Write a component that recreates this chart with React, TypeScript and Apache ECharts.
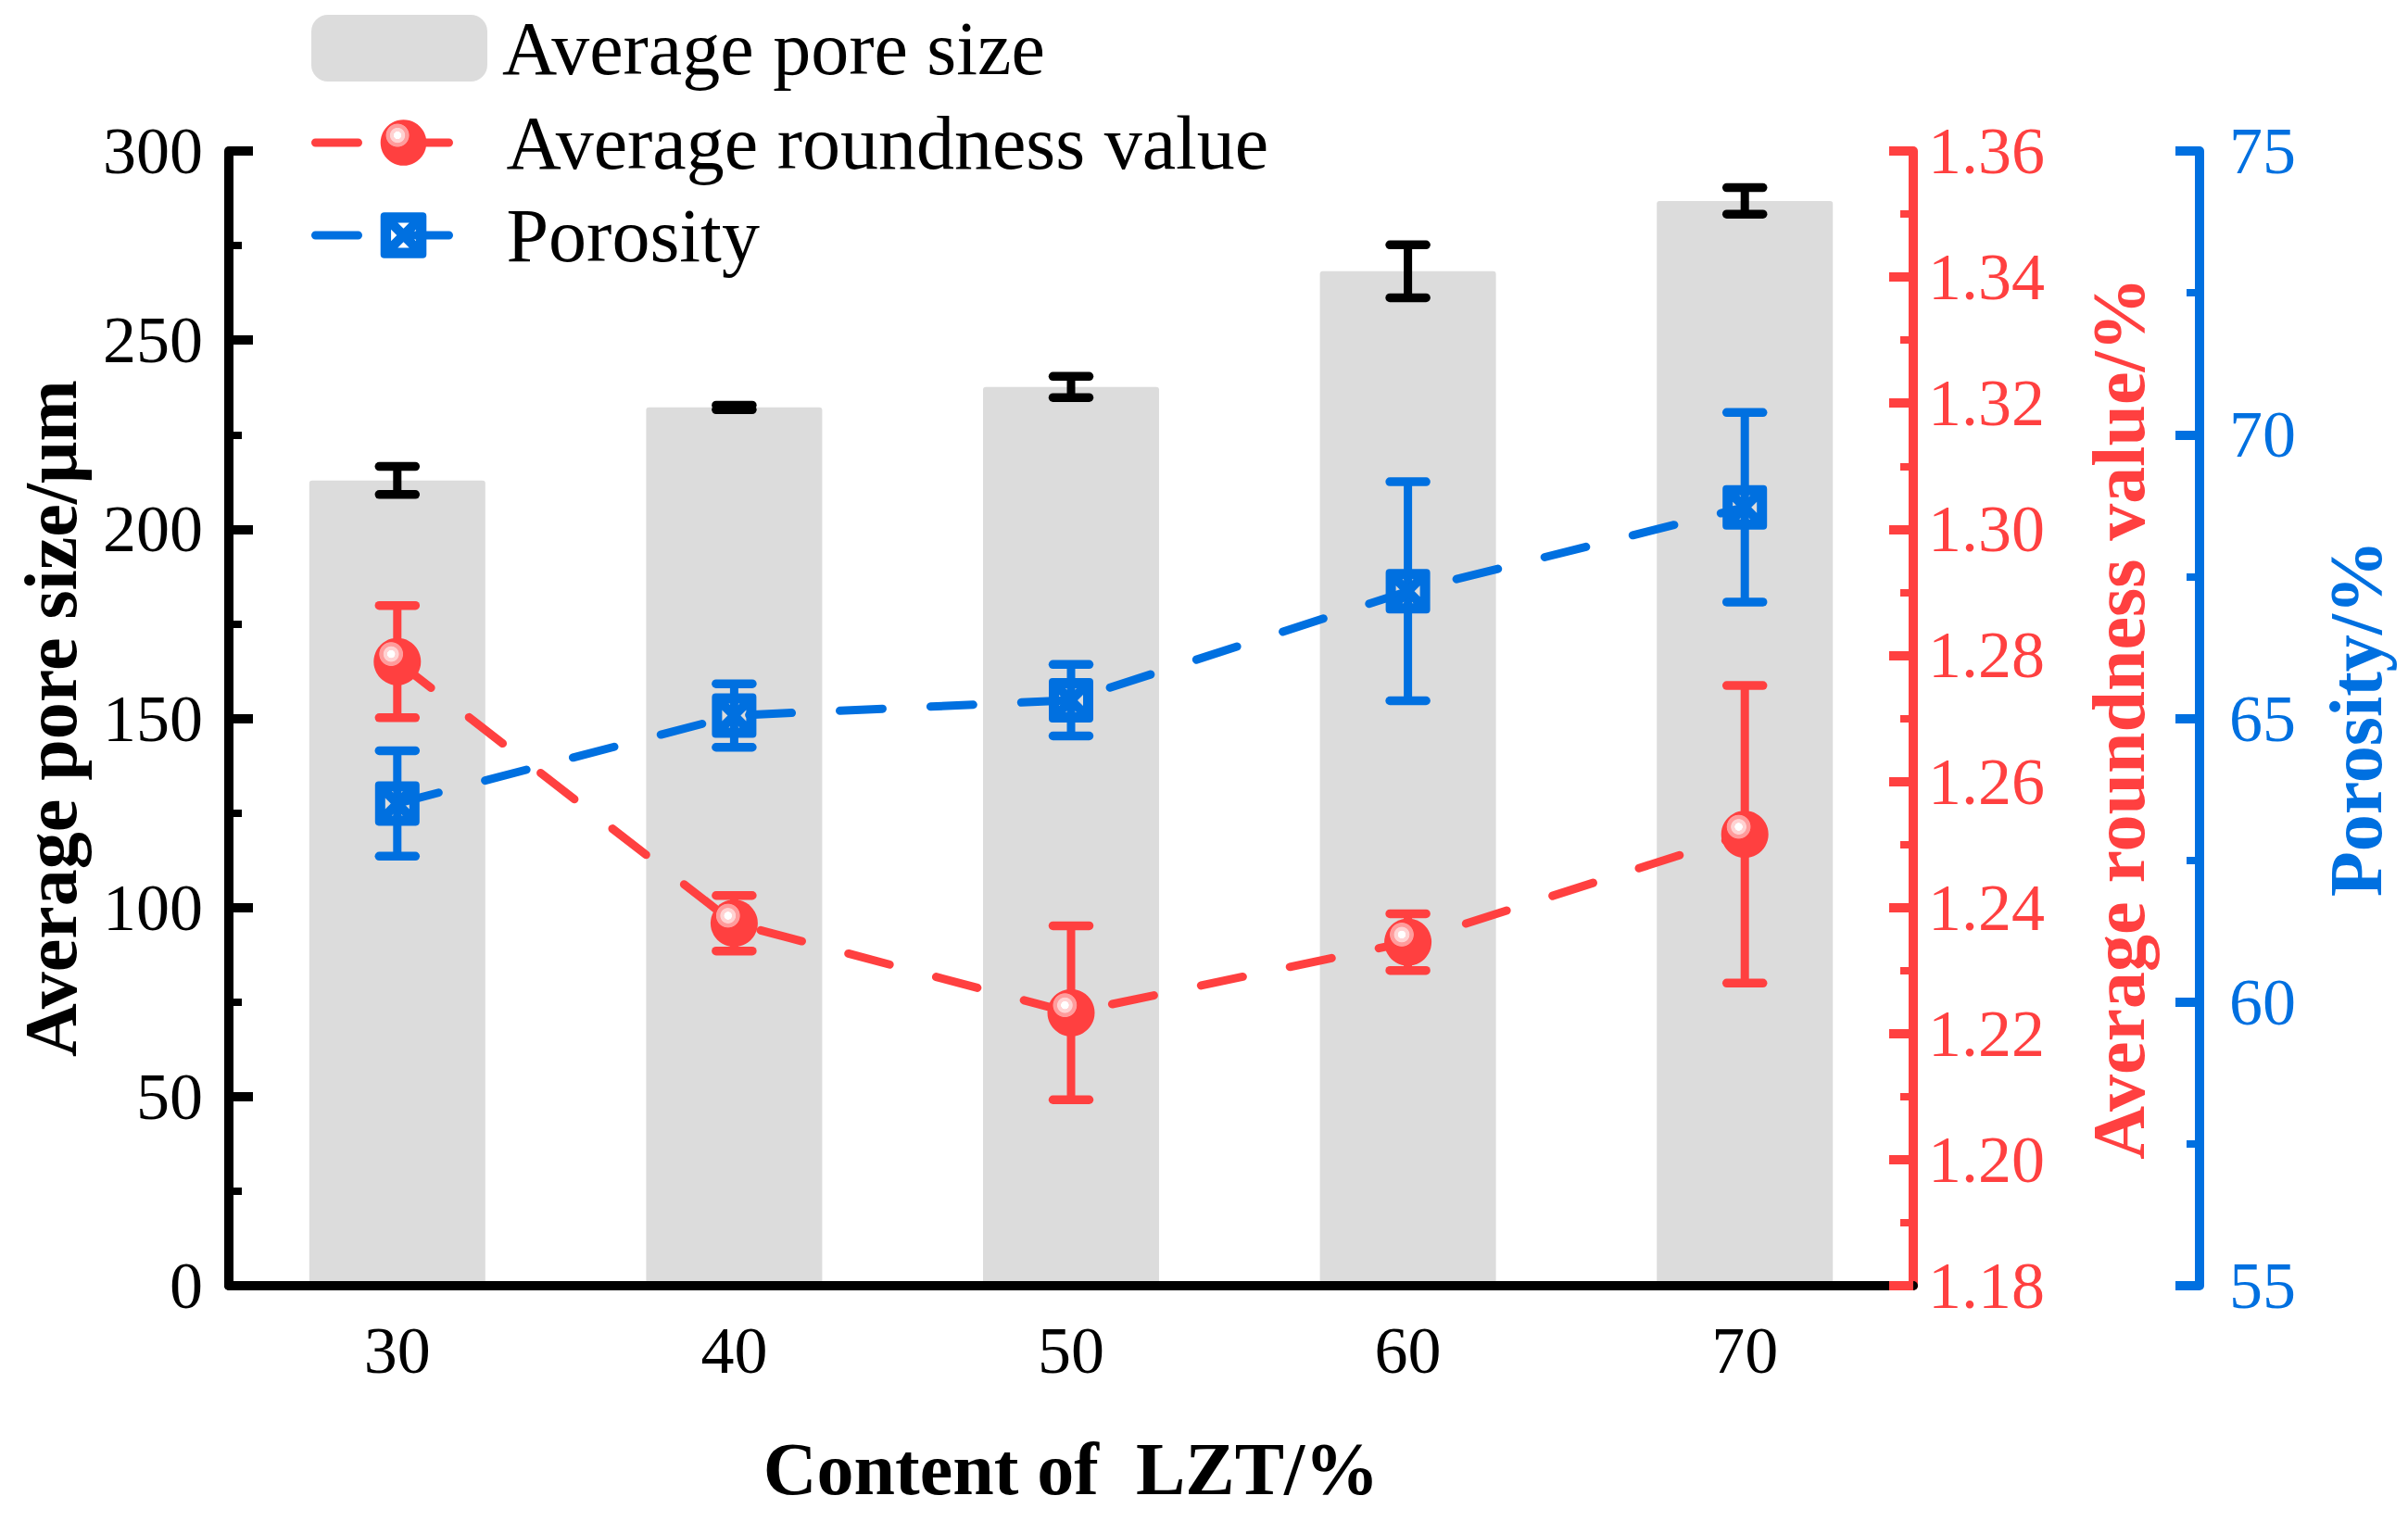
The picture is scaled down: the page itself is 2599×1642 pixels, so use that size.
import React, { useEffect, useRef } from "react";
import * as echarts from "echarts";

const categories = ["30", "40", "50", "60", "70"];
const poreSize = [212.9, 232.2, 237.6, 268.2, 286.8];
const poreSizeErr = [3.7, 0.6, 2.8, 7.0, 3.5];
const roundness = [1.279, 1.2375, 1.2233, 1.2345, 1.2516];
const roundnessErr = [0.0089, 0.0044, 0.0138, 0.0045, 0.0236];
const porosity = [63.5, 65.05, 65.32, 67.24, 68.72];
const porosityErr = [0.93, 0.56, 0.63, 1.93, 1.67];

const leftAxisRange = [0, 300, 50];
const redAxisRange = [1.18, 1.36, 0.02];
const blueAxisRange = [55, 75, 5];

const names = ["Average pore size", "Average roundness value", "Porosity"];

const RED = "#FF4040";
const BLUE = "#0070E0";
const GRAY = "#DCDCDC";
const FONT = "Liberation Serif";

const squareSymbol =
  "path://M4,0 L44,0 Q48,0 48,4 L48,44 Q48,48 44,48 L4,48 Q0,48 0,44 L0,4 Q0,0 4,0 Z " +
  "M18,11 L24,17 L30,11 Z M18,37 L30,37 L24,31 Z M11,18 L11,30 L17,24 Z M37,18 L31,24 L37,30 Z";

function errorRender(color: string) {
  return (params: any, api: any) => {
    const i = api.value(0);
    const lo = api.coord([i, api.value(1)]);
    const hi = api.coord([i, api.value(2)]);
    const h = 19.5;
    const st = { stroke: color, lineWidth: 9.5, lineCap: "round" };
    return {
      type: "group",
      children: [
        { type: "line", shape: { x1: lo[0], y1: lo[1], x2: hi[0], y2: hi[1] }, style: { stroke: color, lineWidth: 9 } },
        { type: "line", shape: { x1: hi[0] - h, y1: hi[1], x2: hi[0] + h, y2: hi[1] }, style: st },
        { type: "line", shape: { x1: lo[0] - h, y1: lo[1], x2: lo[0] + h, y2: lo[1] }, style: st },
      ],
    };
  };
}

export default function App() {
  const ref = useRef<HTMLDivElement>(null);
  useEffect(() => {
    document.body.style.margin = "0";
    const chart = echarts.init(ref.current!, null, { renderer: "svg", width: 2599, height: 1642 });
    const redGrad = new echarts.graphic.RadialGradient(0.37, 0.34, 0.26, [
      { offset: 0, color: "#FFFFFF" },
      { offset: 0.3, color: "#FFFFFF" },
      { offset: 0.34, color: "#FFD2D2" },
      { offset: 0.6, color: "#FFD2D2" },
      { offset: 0.66, color: "#FF9C9C" },
      { offset: 0.94, color: "#FF9C9C" },
      { offset: 1, color: RED },
    ]);
    const tickLabel = { fontFamily: FONT, fontSize: 72 };
    const nameStyle = { fontFamily: FONT, fontSize: 80, fontWeight: "bold" as const };
    const option: any = {
      animation: false,
      backgroundColor: "#FFFFFF",
      textStyle: { fontFamily: FONT },
      grid: { left: 247, right: 534, top: 163, bottom: 254, containLabel: false, outerBoundsMode: "none" },
      legend: [
        {
          data: [names[0]],
          left: 336,
          top: 11,
          orient: "vertical",
          itemWidth: 190,
          itemHeight: 72,
          padding: 0,
          selectedMode: false,
          itemStyle: { borderRadius: 3 },
          textStyle: { fontFamily: FONT, fontSize: 82, color: "#000", padding: [0, 0, 0, 11] },
        },
        {
          data: [names[1], names[2]],
          left: 336,
          top: 113,
          orient: "vertical",
          itemWidth: 190,
          itemHeight: 62,
          itemGap: 18,
          padding: 0,
          selectedMode: false,
          lineStyle: { width: 9, type: [46, 52], cap: "round" },
          textStyle: { fontFamily: FONT, fontSize: 82, color: "#000", padding: [0, 0, 0, 11] },
        },
      ],
      xAxis: {
        type: "category",
        data: categories,
        boundaryGap: true,
        z: 10,
        name: "Content of  LZT/%",
        nameLocation: "middle",
        nameGap: 158,
        nameTextStyle: { ...nameStyle, color: "#000" },
        axisLine: { lineStyle: { color: "#000", width: 10 } },
        axisTick: { alignWithLabel: true, inside: true, length: 25, lineStyle: { color: "#000", width: 10 } },
        axisLabel: { ...tickLabel, color: "#000", margin: 34 },
        splitLine: { show: false },
      },
      yAxis: [
        {
          type: "value",
          position: "left",
          z: 10,
          min: leftAxisRange[0],
          max: leftAxisRange[1],
          interval: leftAxisRange[2],
          name: "Average pore size/μm",
          nameLocation: "middle",
          nameRotate: 90,
          nameGap: 152,
          nameTextStyle: { ...nameStyle, color: "#000" },
          axisLine: { show: true, lineStyle: { color: "#000", width: 10 } },
          axisTick: { show: true, inside: true, length: 26, lineStyle: { color: "#000", width: 10 } },
          minorTick: { show: true, splitNumber: 2, length: 14, lineStyle: { color: "#000", width: 8 } },
          axisLabel: { ...tickLabel, color: "#000", margin: 28 },
          splitLine: { show: false },
          minorSplitLine: { show: false },
        },
        {
          type: "value",
          position: "right",
          offset: 0,
          z: 10,
          min: redAxisRange[0],
          max: redAxisRange[1],
          interval: redAxisRange[2],
          name: "Average roundness value/%",
          nameLocation: "middle",
          nameRotate: 90,
          nameGap: 182,
          nameTextStyle: { ...nameStyle, color: RED },
          axisLine: { show: true, lineStyle: { color: RED, width: 10 } },
          axisTick: { show: true, inside: true, length: 26, lineStyle: { color: RED, width: 10 } },
          minorTick: { show: true, splitNumber: 2, length: 14, lineStyle: { color: RED, width: 8 } },
          axisLabel: { ...tickLabel, color: RED, margin: 16, formatter: (v: number) => v.toFixed(2) },
          splitLine: { show: false },
          minorSplitLine: { show: false },
        },
        {
          type: "value",
          position: "right",
          offset: 309,
          z: 10,
          min: blueAxisRange[0],
          max: blueAxisRange[1],
          interval: blueAxisRange[2],
          name: "Porosity/%",
          nameLocation: "middle",
          nameRotate: 90,
          nameGap: 129,
          nameTextStyle: { ...nameStyle, color: BLUE },
          axisLine: { show: true, lineStyle: { color: BLUE, width: 10 } },
          axisTick: { show: true, inside: true, length: 26, lineStyle: { color: BLUE, width: 10 } },
          minorTick: { show: true, splitNumber: 2, length: 14, lineStyle: { color: BLUE, width: 8 } },
          axisLabel: { ...tickLabel, color: BLUE, margin: 32 },
          splitLine: { show: false },
          minorSplitLine: { show: false },
        },
      ],
      series: [
        {
          name: names[0],
          type: "bar",
          data: poreSize,
          barWidth: 190,
          yAxisIndex: 0,
          z: 2,
          itemStyle: { color: GRAY, borderRadius: [3, 3, 0, 0] },
        },
        {
          type: "custom",
          yAxisIndex: 0,
          z: 5,
          clip: false,
          renderItem: errorRender("#000"),
          encode: { x: 0, y: [1, 2] },
          data: poreSize.map((v, i) => [i, v - poreSizeErr[i], v + poreSizeErr[i]]),
          silent: true,
        },
        {
          type: "custom",
          yAxisIndex: 1,
          z: 5,
          clip: false,
          renderItem: errorRender(RED),
          encode: { x: 0, y: [1, 2] },
          data: roundness.map((v, i) => [i, v - roundnessErr[i], v + roundnessErr[i]]),
          silent: true,
        },
        {
          type: "custom",
          yAxisIndex: 2,
          z: 5,
          clip: false,
          renderItem: errorRender(BLUE),
          encode: { x: 0, y: [1, 2] },
          data: porosity.map((v, i) => [i, v - porosityErr[i], v + porosityErr[i]]),
          silent: true,
        },
        {
          name: names[1],
          type: "line",
          yAxisIndex: 1,
          data: roundness,
          symbol: "circle",
          symbolSize: 51,
          itemStyle: { color: redGrad, borderWidth: 0 },
          lineStyle: { color: RED, width: 9, type: [46, 52], cap: "round" },
          z: 6,
        },
        {
          name: names[2],
          type: "line",
          yAxisIndex: 2,
          data: porosity,
          symbol: squareSymbol,
          symbolSize: 48,
          itemStyle: { color: BLUE, borderWidth: 0 },
          lineStyle: { color: BLUE, width: 9, type: [46, 52], cap: "round" },
          z: 6,
        },
      ],
    };
    chart.setOption(option);
    return () => chart.dispose();
  }, []);
  return <div ref={ref} style={{ position: "absolute", left: 0, top: 0, width: 2599, height: 1642 }} />;
}
